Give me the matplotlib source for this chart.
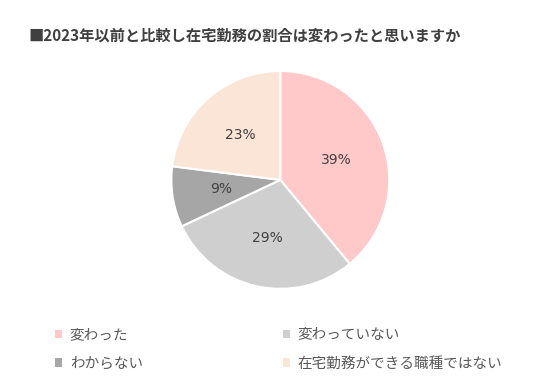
import matplotlib.pyplot as plt

plt.rcParams['font.family'] = ['Noto Sans CJK JP', 'DejaVu Sans']

title = '■2023年以前と比較し在宅勤務の割合は変わったと思いますか'
labels = ['変わった', '変わっていない', 'わからない', '在宅勤務ができる職種ではない']
values = [39, 29, 9, 23]
colors = ['#FFC9C9', '#D0CFD0', '#A6A6A6', '#FBE5D6']

fig = plt.figure(figsize=(5.6, 3.84), dpi=100)
ax = fig.add_axes([0.304, 0.245, 0.393, 0.573])

wedges, texts, autotexts = ax.pie(values, colors=colors, startangle=90, counterclock=False,
                                  autopct='%d%%', pctdistance=0.55,
                                  wedgeprops=dict(edgecolor='white', linewidth=1.5))
for t in autotexts:
    t.set_color('#404040')
    t.set_fontsize(10)
    t.set_family('DejaVu Sans')
ax.set_xlim(-1.01, 1.01)
ax.set_ylim(-1.01, 1.01)
ax.set_aspect('equal')

fig.text(0.05, 0.907, title, fontsize=11, fontweight='bold', color='#404040', va='center')

# legend order: row by row, two columns
order = [0, 2, 1, 3]
leg = fig.legend([wedges[i] for i in order], [labels[i] for i in order], ncol=2,
                 loc='upper left', bbox_to_anchor=(0.075, 0.18), frameon=False,
                 fontsize=10.5, handlelength=0.5, handleheight=0.5, handletextpad=0.5,
                 columnspacing=9.6, labelspacing=1.0, labelcolor='#595959')
for h in leg.legend_handles:
    h.set_edgecolor('none')

fig.savefig('out.png', dpi=100, facecolor='white')
